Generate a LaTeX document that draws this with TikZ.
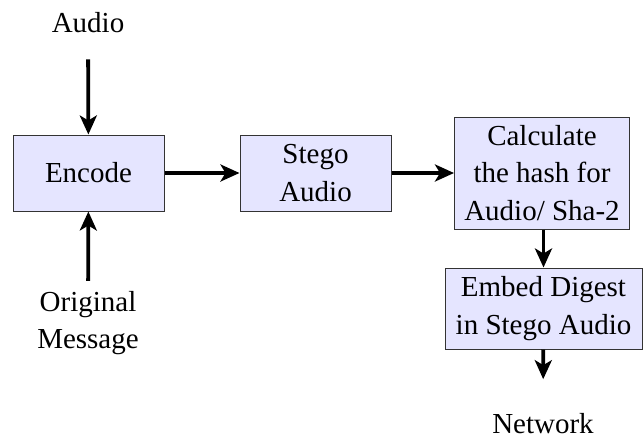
\documentclass[tikz,border=0pt]{standalone}
\usepackage{fontspec}
\setmainfont{Liberation Serif}
\usetikzlibrary{arrows.meta}
\begin{document}
\begin{tikzpicture}[x=1pt,y=-1pt,
  box/.style={draw=black!80, line width=1pt, fill=blue!10, rectangle, align=center, inner sep=0pt,
    font=\fontsize{29}{37.5}\selectfont},
  lbl/.style={align=center, inner sep=0pt, font=\fontsize{29}{37.5}\selectfont},
  word/.style={inner sep=0pt, font=\fontsize{29}{37.5}\selectfont},
  arr/.style={line width=3.8pt, -{Stealth[length=19pt,width=17pt,inset=5pt]}}]
\useasboundingbox (0,0) rectangle (644,439);
\node[box, minimum width=151pt, minimum height=76pt] (enc) at (88.5,173) {Encode};
\node[box, minimum width=151pt, minimum height=76pt] (stego) at (315.5,173) {Stego\\Audio};
\node[box, minimum width=175pt, minimum height=112pt] (calc) at (542,173) {Calculate\\the hash for\\Audio/ Sha-2};
\node[box, minimum width=197pt, minimum height=81pt] (emb) at (543.5,308.5) {Embed Digest\\in Stego Audio};
\node[word, anchor=base] (audio) at (88,32) {Audio};
\node[lbl] (orig) at (88,323) {Original\\Message};
\node[word, anchor=base] (net) at (543,433.5) {Network};
\draw[arr, shorten <=27pt] (audio) -- (enc);
\draw[arr, shorten <=10pt] (orig) -- (enc);
\draw[arr] (enc) -- (stego);
\draw[arr] (stego.east) -- (calc.west |- stego.east);
\draw[arr] (calc.south -| emb.north) -- (emb.north);
\draw[arr, shorten >=34pt] (emb) -- (net);
\end{tikzpicture}
\end{document}
